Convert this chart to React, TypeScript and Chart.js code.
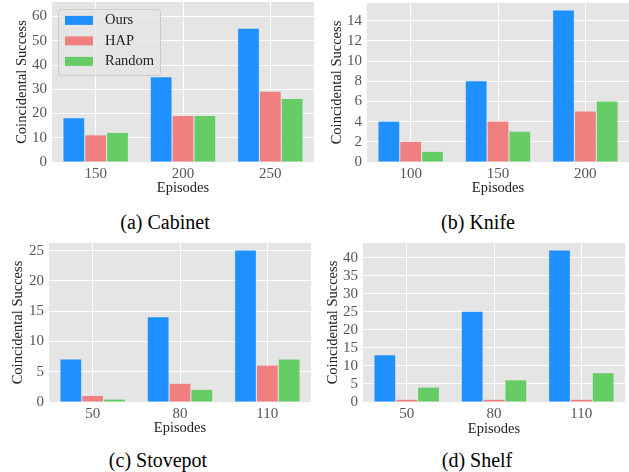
import React, { useEffect, useRef } from "react";
import { Chart, registerables } from "chart.js";
Chart.register(...registerables);

const seriesNames = ["Ours", "HAP", "Random"];
const seriesColors = ["#1e90ff", "#f08080", "#66cc66"];

const cabinetEpisodes = ["150", "200", "250"];
const cabinetOurs = [18, 35, 55];
const cabinetHAP = [11, 19, 29];
const cabinetRandom = [12, 19, 26];

const knifeEpisodes = ["100", "150", "200"];
const knifeOurs = [4, 8, 15];
const knifeHAP = [2, 4, 5];
const knifeRandom = [1, 3, 6];

const stovepotEpisodes = ["50", "80", "110"];
const stovepotOurs = [7, 14, 25];
const stovepotHAP = [1, 3, 6];
const stovepotRandom = [0.4, 2, 7];

const shelfEpisodes = ["50", "80", "110"];
const shelfOurs = [13, 25, 42];
const shelfHAP = [0.6, 0.6, 0.6];
const shelfRandom = [4, 6, 8];

const FONT = "'Liberation Serif', 'Times New Roman', serif";
const TITLE_SIZE = 14.5;
const TICK_SIZE = 15;
const HALF_LH = (TITLE_SIZE * 1.2) / 2;

const bgPlugin = {
  id: "plotBg",
  beforeDraw(chart: any) {
    const { ctx, chartArea } = chart;
    ctx.save();
    ctx.fillStyle = "#e5e5e5";
    ctx.fillRect(chartArea.left, chartArea.top, chartArea.right - chartArea.left, chartArea.bottom - chartArea.top);
    ctx.restore();
  },
};

const legendPlugin = {
  id: "insideLegend",
  afterDraw(chart: any, _args: any, opts: any) {
    if (!opts || !opts.show) return;
    const { ctx, chartArea } = chart;
    const x0 = chartArea.left + 6;
    const y0 = chartArea.top + 7;
    const w = 102;
    const h = 66;
    ctx.save();
    ctx.beginPath();
    ctx.roundRect(x0 + 0.5, y0 + 0.5, w, h, 3);
    ctx.fillStyle = "rgba(229,229,229,0.8)";
    ctx.fill();
    ctx.strokeStyle = "#cccccc";
    ctx.lineWidth = 1;
    ctx.stroke();
    chart.data.datasets.forEach((ds: any, i: number) => {
      const yc = y0 + 11.4 + i * 20.5;
      ctx.fillStyle = ds.backgroundColor;
      ctx.fillRect(x0 + 7, yc - 4.5, 28, 9);
      ctx.fillStyle = "#222222";
      ctx.font = `${TITLE_SIZE}px ${FONT}`;
      ctx.textBaseline = "middle";
      ctx.textAlign = "left";
      ctx.fillText(ds.label, x0 + 47, yc);
    });
    ctx.restore();
  },
};

type PanelProps = {
  labels: string[];
  values: number[][];
  yMax: number;
  step: number;
  cell: { x: number; y: number; w: number; h: number };
  plot: { L: number; T: number; R: number; B: number };
  yTitleX: number;
  xTitleY: number;
  legend?: boolean;
};

function zeroPad(s: any) {
  s.paddingTop = 0;
  s.paddingBottom = 0;
  s.paddingLeft = 0;
  s.paddingRight = 0;
}

function Panel(p: PanelProps) {
  const ref = useRef<HTMLCanvasElement>(null);
  useEffect(() => {
    const { cell, plot } = p;
    const padLeft = p.yTitleX - HALF_LH - cell.x;
    const yWidth = plot.L - cell.x - padLeft;
    const padTop = plot.T - cell.y;
    const padRight = cell.x + cell.w - plot.R;
    const axisBottom = p.xTitleY + HALF_LH;
    const padBottom = cell.y + cell.h - axisBottom;
    const xHeight = axisBottom - plot.B;
    const chart = new Chart(ref.current as HTMLCanvasElement, {
      type: "bar",
      data: {
        labels: p.labels,
        datasets: p.values.map((v, i) => ({
          label: seriesNames[i],
          data: v,
          backgroundColor: seriesColors[i],
          borderWidth: 0,
          categoryPercentage: 0.75,
          barPercentage: 0.95,
        })),
      },
      options: {
        animation: false,
        responsive: false,
        maintainAspectRatio: false,
        devicePixelRatio: 1,
        layout: { padding: { left: padLeft, top: padTop, right: padRight, bottom: padBottom } },
        plugins: {
          legend: { display: false },
          tooltip: { enabled: false },
          insideLegend: { show: !!p.legend },
        } as any,
        scales: {
          x: {
            type: "category",
            offset: true,
            grid: { offset: false, color: "#ffffff", lineWidth: 1, drawTicks: false },
            border: { display: false },
            ticks: { color: "#555555", font: { family: FONT, size: TICK_SIZE }, padding: 3, autoSkip: false, maxRotation: 0 },
            title: { display: true, text: "Episodes", color: "#222222", font: { family: FONT, size: TITLE_SIZE }, padding: 0 },
            afterFit: (s: any) => {
              s.height = xHeight;
              zeroPad(s);
            },
          },
          y: {
            type: "linear",
            min: 0,
            max: p.yMax,
            grid: { color: "#ffffff", lineWidth: 1, drawTicks: false },
            border: { display: false },
            ticks: {
              stepSize: p.step,
              includeBounds: false,
              autoSkip: false,
              color: "#555555",
              font: { family: FONT, size: TICK_SIZE },
              padding: 5,
            },
            title: { display: true, text: "Coincidental Success", color: "#222222", font: { family: FONT, size: TITLE_SIZE }, padding: 0 },
            afterFit: (s: any) => {
              s.width = yWidth;
              zeroPad(s);
            },
          },
        },
      } as any,
      plugins: [bgPlugin, legendPlugin],
    });
    return () => chart.destroy();
  }, []);
  return (
    <canvas
      ref={ref}
      width={p.cell.w}
      height={p.cell.h}
      style={{ position: "absolute", left: p.cell.x, top: p.cell.y, width: p.cell.w, height: p.cell.h }}
    />
  );
}

function Caption({ text, x, y }: { text: string; x: number; y: number }) {
  return (
    <div
      style={{
        position: "absolute",
        left: x,
        top: y,
        transform: "translate(-50%, -50%)",
        fontFamily: FONT,
        fontSize: 20,
        color: "#000",
        whiteSpace: "nowrap",
        lineHeight: 1,
      }}
    >
      {text}
    </div>
  );
}

export default function App() {
  return (
    <div style={{ position: "absolute", left: 0, top: 0, width: 629, height: 472, background: "#fff", overflow: "hidden" }}>
      <Panel
        labels={cabinetEpisodes}
        values={[cabinetOurs, cabinetHAP, cabinetRandom]}
        yMax={66}
        step={10}
        cell={{ x: 0, y: 0, w: 316, h: 205 }}
        plot={{ L: 52, T: 2, R: 314, B: 162 }}
        yTitleX={22}
        xTitleY={188}
        legend
      />
      <Panel
        labels={knifeEpisodes}
        values={[knifeOurs, knifeHAP, knifeRandom]}
        yMax={15.75}
        step={2}
        cell={{ x: 316, y: 0, w: 313, h: 205 }}
        plot={{ L: 367, T: 3, R: 629, B: 162 }}
        yTitleX={337}
        xTitleY={188}
      />
      <Panel
        labels={stovepotEpisodes}
        values={[stovepotOurs, stovepotHAP, stovepotRandom]}
        yMax={26.25}
        step={5}
        cell={{ x: 0, y: 236, w: 316, h: 205 }}
        plot={{ L: 49, T: 243, R: 311, B: 402 }}
        yTitleX={18}
        xTitleY={428}
      />
      <Panel
        labels={shelfEpisodes}
        values={[shelfOurs, shelfHAP, shelfRandom]}
        yMax={44.1}
        step={5}
        cell={{ x: 316, y: 236, w: 313, h: 205 }}
        plot={{ L: 363, T: 243, R: 625, B: 402 }}
        yTitleX={333}
        xTitleY={429}
      />
      <Caption text="(a) Cabinet" x={165} y={222} />
      <Caption text="(b) Knife" x={478} y={222} />
      <Caption text="(c) Stovepot" x={158} y={460} />
      <Caption text="(d) Shelf" x={477} y={460} />
    </div>
  );
}
